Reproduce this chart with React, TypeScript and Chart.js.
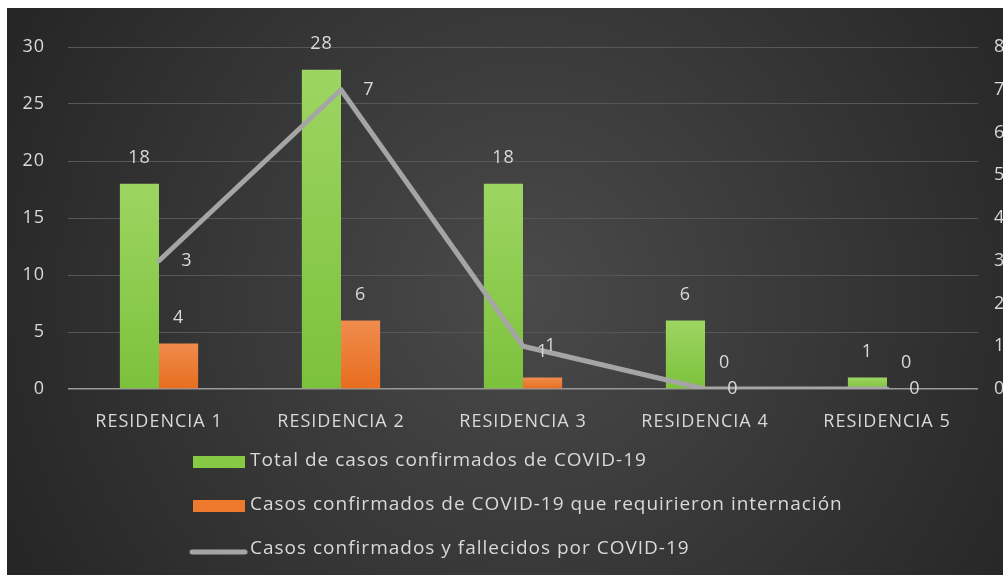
import React, { useEffect, useRef } from 'react';
import { Chart, registerables } from 'chart.js';

Chart.register(...registerables);

const categories = ['RESIDENCIA 1', 'RESIDENCIA 2', 'RESIDENCIA 3', 'RESIDENCIA 4', 'RESIDENCIA 5'];
const totalConfirmed = [18, 28, 18, 6, 1];
const hospitalized = [4, 6, 1, 0, 0];
const deceased = [3, 7, 1, 0, 0];
const seriesNames = [
  'Total de casos confirmados de COVID-19',
  'Casos confirmados de COVID-19 que requirieron internación',
  'Casos confirmados y fallecidos por COVID-19',
];
const leftAxis = { min: 0, max: 30, step: 5 };
const rightAxis = { min: 0, max: 8, step: 1 };

const FONT = "'Open Sans', sans-serif";
const TEXT = '#d9d9d9';

function barGradient(top: string, bottom: string, fallback: string) {
  return (c: any) => {
    const chart = c.chart;
    const ys = chart.scales && chart.scales.y;
    if (!ys || c.raw === undefined || !chart.chartArea) return fallback;
    const yTop = ys.getPixelForValue(c.raw);
    const yBot = ys.getPixelForValue(0);
    if (!isFinite(yTop) || Math.abs(yBot - yTop) < 1) return fallback;
    const g = chart.ctx.createLinearGradient(0, yTop, 0, yBot);
    g.addColorStop(0, top);
    g.addColorStop(1, bottom);
    return g;
  };
}

const spacingPlugin = {
  id: 'spacing',
  beforeUpdate(chart: any) {
    chart.ctx.letterSpacing = '1px';
  },
  beforeDraw(chart: any) {
    chart.ctx.letterSpacing = '1px';
  },
};

const backgroundPlugin = {
  id: 'bg',
  beforeDraw(chart: any) {
    const { ctx, width, height } = chart;
    ctx.save();
    const cx = width * 0.52;
    const cy = height * 0.5;
    const r = Math.sqrt(width * width + height * height) / 2;
    const g = ctx.createRadialGradient(cx, cy, 0, cx, cy, r);
    g.addColorStop(0, '#4a4a4a');
    g.addColorStop(1, '#262626');
    ctx.fillStyle = g;
    ctx.fillRect(0, 0, width, height);
    ctx.restore();
  },
};

const labelsPlugin = {
  id: 'valueLabels',
  afterDatasetsDraw(chart: any) {
    const ctx = chart.ctx;
    ctx.save();
    ctx.font = `18px ${FONT}`;
    ctx.fillStyle = TEXT;
    ctx.textAlign = 'center';
    ctx.textBaseline = 'middle';
    chart.data.datasets.forEach((ds: any, i: number) => {
      const meta = chart.getDatasetMeta(i);
      meta.data.forEach((el: any, j: number) => {
        const v = ds.data[j];
        if (ds.type === 'line') {
          ctx.fillText(String(v), el.x + 28, el.y);
        } else {
          ctx.fillText(String(v), el.x, el.y - 26);
        }
      });
    });
    ctx.restore();
  },
};

const legendPlugin = {
  id: 'customLegend',
  afterDraw(chart: any) {
    const ctx = chart.ctx;
    ctx.save();
    ctx.font = `19px ${FONT}`;
    ctx.fillStyle = TEXT;
    ctx.textAlign = 'left';
    ctx.textBaseline = 'middle';
    const ds = chart.data.datasets;
    const rows = [453, 497, 541];
    const boxX = 186;
    const boxW = 52;
    ds.forEach((d: any, i: number) => {
      const y = rows[i];
      if (d.type === 'line') {
        ctx.strokeStyle = d.borderColor;
        ctx.lineWidth = 5;
        ctx.lineCap = 'round';
        ctx.beginPath();
        ctx.moveTo(boxX - 1, y + 3);
        ctx.lineTo(boxX + boxW, y + 3);
        ctx.stroke();
      } else {
        ctx.fillStyle = d.legendColor;
        ctx.fillRect(boxX, y - 5, boxW, 12);
      }
      ctx.fillStyle = TEXT;
      ctx.fillText(d.label, boxX + boxW + 5, y);
    });
    ctx.restore();
  },
};

export default function App() {
  const ref = useRef<HTMLCanvasElement | null>(null);
  useEffect(() => {
    if (!ref.current) return;
    const chart = new Chart(ref.current, {
      type: 'bar',
      data: {
        labels: categories,
        datasets: [
          {
            type: 'bar',
            label: seriesNames[0],
            data: totalConfirmed,
            backgroundColor: barGradient('#9dd562', '#7cc13c', '#8ccb4e'),
            legendColor: '#86c945',
            yAxisID: 'y',
            order: 1,
          } as any,
          {
            type: 'bar',
            label: seriesNames[1],
            data: hospitalized,
            backgroundColor: barGradient('#f08c4e', '#e86d1e', '#ec7d35'),
            legendColor: '#ef7a2e',
            yAxisID: 'y',
            order: 1,
          } as any,
          {
            type: 'line',
            label: seriesNames[2],
            data: deceased,
            borderColor: '#a5a5a5',
            borderWidth: 5,
            pointRadius: 0,
            pointHoverRadius: 0,
            borderCapStyle: 'round',
            borderJoinStyle: 'round',
            tension: 0,
            yAxisID: 'y1',
            order: 0,
          } as any,
        ],
      },
      options: {
        animation: false,
        responsive: true,
        maintainAspectRatio: false,
        datasets: {
          bar: { categoryPercentage: 0.43, barPercentage: 1.0 },
        },
        layout: { padding: { top: 39, bottom: 126, left: 0, right: 0 } },
        plugins: {
          legend: { display: false },
          tooltip: { enabled: false },
        },
        scales: {
          x: {
            grid: { display: false },
            border: { display: false },
            ticks: {
              color: TEXT,
              font: { family: FONT, size: 18 },
              padding: 14,
              maxRotation: 0,
              autoSkip: false,
            },
            afterFit: (s: any) => {
              s.height = 60;
            },
          },
          y: {
            position: 'left',
            min: leftAxis.min,
            max: leftAxis.max,
            ticks: {
              stepSize: leftAxis.step,
              color: TEXT,
              font: { family: FONT, size: 18 },
              padding: 23,
            },
            grid: {
              drawTicks: false,
              color: (c: any) => (c.tick && c.tick.value === 0 ? '#9a9a9a' : '#575757'),
              lineWidth: (c: any) => (c.tick && c.tick.value === 0 ? 1.5 : 1),
            },
            border: { display: false },
            afterFit: (s: any) => {
              s.width = 61;
            },
          },
          y1: {
            position: 'right',
            min: rightAxis.min,
            max: rightAxis.max,
            ticks: {
              stepSize: rightAxis.step,
              color: TEXT,
              font: { family: FONT, size: 18 },
              padding: 16,
            },
            grid: { display: false, drawTicks: false },
            border: { display: false },
            afterFit: (s: any) => {
              s.width = 25;
            },
          },
        },
      } as any,
      plugins: [spacingPlugin, backgroundPlugin, labelsPlugin, legendPlugin],
    });
    return () => chart.destroy();
  }, []);

  return (
    <div style={{ position: 'fixed', left: 7, top: 8, width: 996, height: 567 }}>
      <canvas ref={ref} />
    </div>
  );
}
